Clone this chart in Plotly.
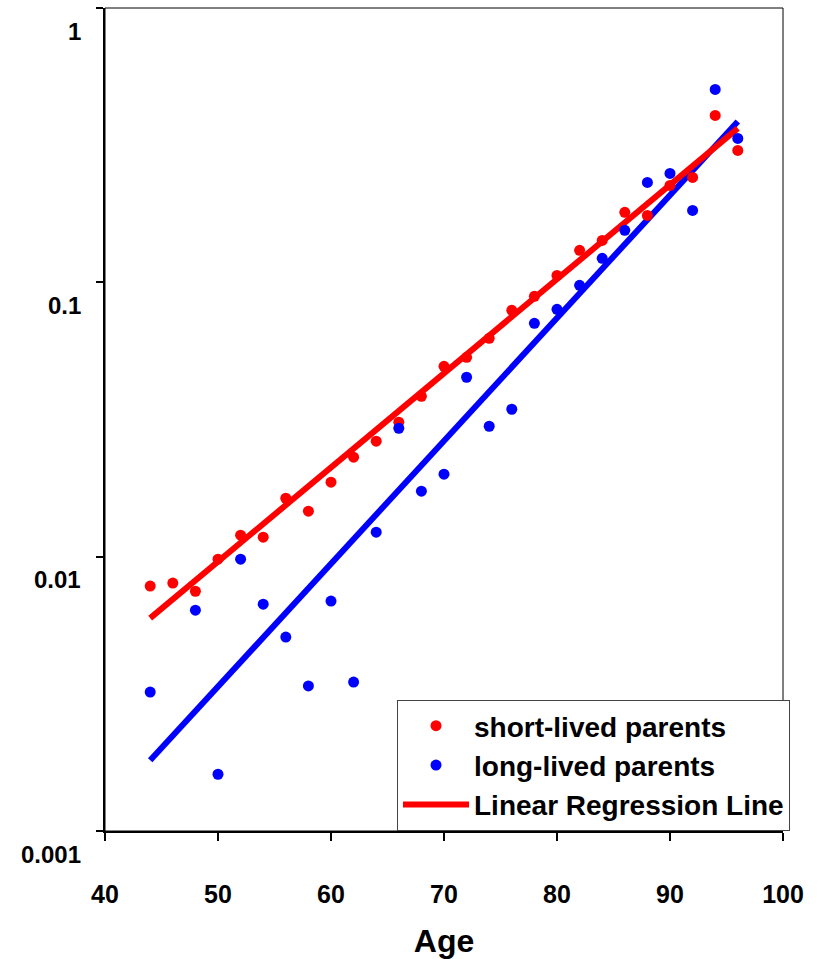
import plotly.graph_objects as go
import math

# Data
age_short = [44, 46, 48, 50, 52, 54, 56, 58, 60, 62, 64, 66, 68, 70,
             72, 74, 76, 78, 80, 82, 84, 86, 88, 90, 92, 94, 96]
short_lived = [0.00781, 0.00801, 0.00748, 0.00979, 0.01198, 0.01178, 0.01633,
               0.01465, 0.01868, 0.02304, 0.02635, 0.03090, 0.03843, 0.04943,
               0.05330, 0.06252, 0.07907, 0.08892, 0.1060, 0.1308, 0.1422,
               0.1799, 0.1754, 0.2256, 0.2413, 0.4059, 0.3027]

age_long = [44, 48, 50, 52, 54, 56, 58, 60, 62, 64, 66, 68, 70,
            72, 74, 76, 78, 80, 82, 84, 86, 88, 90, 92, 94, 96]
long_lived = [0.00321, 0.00638, 0.00161, 0.00979, 0.00671, 0.00509, 0.00338,
              0.00689, 0.00349, 0.01228, 0.02938, 0.01732, 0.01998, 0.04508,
              0.02988, 0.03446, 0.07090, 0.07973, 0.09752, 0.1223, 0.1547,
              0.2313, 0.2495, 0.1829, 0.5048, 0.3347]

fit_age = [44, 96]
fit_short = [0.00597, 0.364]
fit_long = [0.00181, 0.386]

y_tick_vals = [0.001, 0.01, 0.1, 1]
y_tick_text = ["0.001", "0.01", "0.1", "1"]
x_tick_vals = [40, 50, 60, 70, 80, 90, 100]

RED = "#FF0000"
BLUE = "#0000FF"
FONT = "Liberation Sans, Arial, sans-serif"

fig = go.Figure()

fig.add_trace(go.Scatter(
    x=fit_age, y=fit_long, mode="lines",
    line=dict(color=BLUE, width=6), showlegend=False, name="fit long"))
fig.add_trace(go.Scatter(
    x=fit_age, y=fit_short, mode="lines",
    line=dict(color=RED, width=6), showlegend=False, name="fit short"))

fig.add_trace(go.Scatter(
    x=age_short, y=short_lived, mode="markers", name="short-lived parents",
    marker=dict(color=RED, size=11)))
fig.add_trace(go.Scatter(
    x=age_long, y=long_lived, mode="markers", name="long-lived parents",
    marker=dict(color=BLUE, size=11)))
# legend entry for regression line
fig.add_trace(go.Scatter(
    x=[None], y=[None], mode="lines", name="Linear Regression Line",
    line=dict(color=RED, width=6)))

# y tick labels as annotations (placed slightly below their ticks as in the reference)
annotations = []
for v, t in zip(y_tick_vals, y_tick_text):
    annotations.append(dict(
        x=0, xref="paper", y=math.log10(v), yref="y",
        text=t, showarrow=False, xanchor="right", yanchor="middle",
        xshift=-22, yshift=-23,
        font=dict(family=FONT, size=24, color="black", weight="bold")))

fig.update_layout(
    width=819, height=959,
    margin=dict(l=105, r=36, t=8, b=128),
    paper_bgcolor="white", plot_bgcolor="white",
    font=dict(family=FONT, size=24, color="black", weight="bold"),
    showlegend=True,
    legend=dict(
        x=0.4307, y=0, xanchor="left", yanchor="bottom",
        bgcolor="white", bordercolor="#444", borderwidth=1,
        font=dict(family=FONT, size=28, color="black", weight="bold"),
        itemwidth=66, tracegroupgap=0,
    ),
    annotations=annotations,
    shapes=[dict(type="rect", xref="paper", yref="paper",
                 x0=0, y0=0, x1=1, y1=1,
                 line=dict(color="black", width=1), layer="above")],
)

fig.update_xaxes(
    range=[40, 100], tickvals=x_tick_vals,
    showgrid=False, zeroline=False, automargin=False,
    showline=True, linecolor="black", linewidth=2,
    ticks="outside", ticklen=8, tickwidth=1.5, tickcolor="black",
    tickfont=dict(size=25, family=FONT, weight="bold"),
    ticklabelstandoff=32,
    title=dict(text="Age", font=dict(size=32, family=FONT, weight="bold"), standoff=44),
)
fig.update_yaxes(
    type="log", range=[-3, 0],
    tickvals=y_tick_vals, showticklabels=False,
    showgrid=False, zeroline=False, automargin=False,
    showline=True, linecolor="black", linewidth=2,
    ticks="outside", ticklen=7, tickwidth=1.5, tickcolor="black",
)

fig.write_html("out.html")
